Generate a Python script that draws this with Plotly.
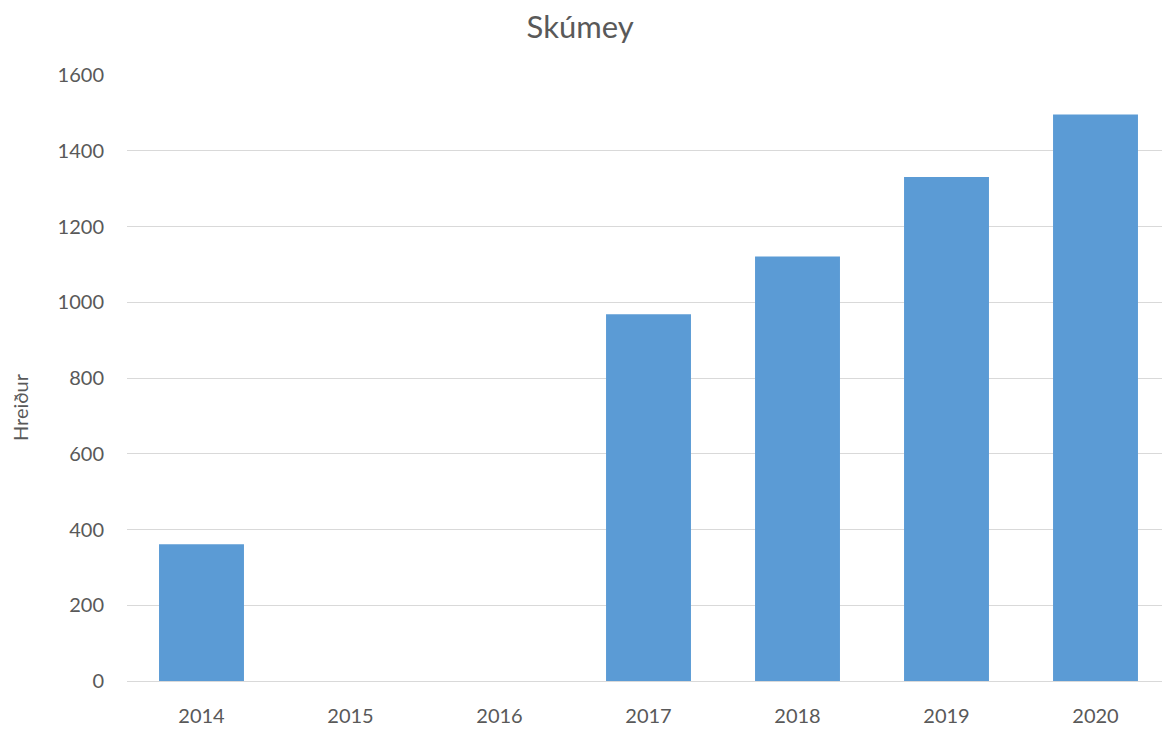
import plotly.graph_objects as go

years = ["2014", "2015", "2016", "2017", "2018", "2019", "2020"]
nests = [361, None, None, 968, 1121, 1331, 1496]
y_ticks = [0, 200, 400, 600, 800, 1000, 1200, 1400, 1600]

FONT = "Lato, 'Open Sans', sans-serif"
GREY = "#595959"

fig = go.Figure(
    go.Bar(x=years, y=nests, marker=dict(color="#5b9bd5", line=dict(width=0)))
)
fig.update_layout(
    width=1170, height=730,
    margin=dict(l=119, r=8, t=67, b=57, autoexpand=False),
    paper_bgcolor="white", plot_bgcolor="white",
    bargap=0.43,
    showlegend=False,
    font=dict(family=FONT, color=GREY, size=20),
    title=dict(text="Skúmey", x=0.489, xanchor="center", y=0.974, yanchor="middle",
               font=dict(family=FONT, size=31, color=GREY)),
    xaxis=dict(type="category", showgrid=False, showline=True, linecolor="#d9d9d9",
               linewidth=1, ticks="", ticklabelstandoff=17, tickfont=dict(size=20, color=GREY)),
    yaxis=dict(range=[0, 1600], tickvals=y_ticks, showgrid=True, gridcolor="#d9d9d9",
               gridwidth=1, zeroline=False, showline=False, ticks="",
               ticklabelstandoff=22, tickfont=dict(size=20, color=GREY)),
    annotations=[dict(text="Hreiður", textangle=-90, xref="paper", yref="paper",
                      x=-0.1026, y=0.452, xanchor="center", yanchor="middle",
                      showarrow=False, font=dict(family=FONT, size=20, color=GREY))],
)
fig.write_html("out.html")
